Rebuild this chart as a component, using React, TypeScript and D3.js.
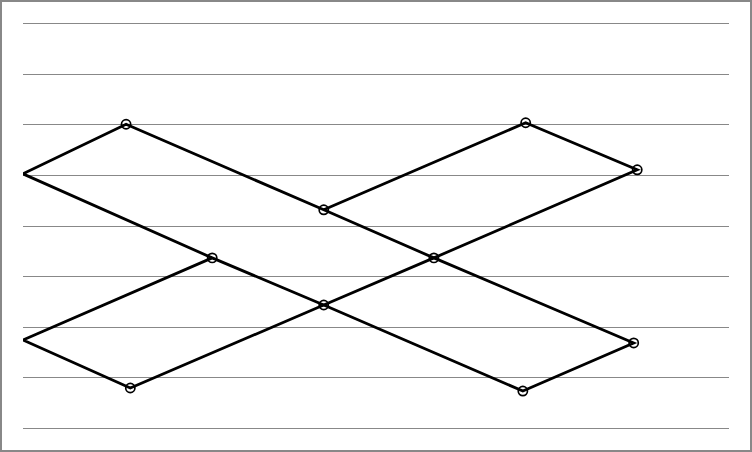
import React from 'react';
import * as d3 from 'd3';

// grid levels (no labels shown in the chart)
const yTicks = [0, 1, 2, 3, 4, 5, 6, 7, 8];

// closed loop series
const loopX = [0, 14.6, 42.6, 58.2, 86.5, 70.8, 42.6, 26.8, 0];
const loopY = [5.02, 6.0, 4.31, 3.36, 1.68, 0.73, 2.43, 3.36, 5.02];

// open path series
const pathX = [26.8, 0, 15.2, 42.6, 58.2, 87.0, 71.2, 42.6];
const pathY = [3.36, 1.74, 0.79, 2.43, 3.36, 5.1, 6.03, 4.31];

const W = 752;
const H = 452;
const margin = { top: 23, right: 23, bottom: 24, left: 23 };

const App = () => {
  const x = d3.scaleLinear().domain([0, 100]).range([margin.left, W - margin.right]);
  const y = d3.scaleLinear().domain([0, 8]).range([H - margin.bottom, margin.top]);

  const series = [
    loopX.map((v, i) => ({ x: v, y: loopY[i] })),
    pathX.map((v, i) => ({ x: v, y: pathY[i] })),
  ];

  const line = d3.line<{ x: number; y: number }>()
    .x(d => x(d.x))
    .y(d => y(d.y));

  // markers: every point inside the plot, once
  const seen = new Set<string>();
  const markers: { x: number; y: number }[] = [];
  series.flat().forEach(d => {
    const k = `${d.x}-${d.y}`;
    if (d.x > 0 && !seen.has(k)) {
      seen.add(k);
      markers.push(d);
    }
  });

  return (
    <svg width={W} height={H} style={{ position: 'absolute', left: 0, top: 0, display: 'block' }}>
      <defs>
        <clipPath id="plot">
          <rect x={x(0)} y={0} width={x(100) - x(0)} height={H} />
        </clipPath>
      </defs>
      <rect x={0} y={0} width={W} height={H} fill="#fff" />
      {/* grid */}
      {yTicks.map(t => (
        <line
          key={t}
          x1={x(0)}
          x2={x(100)}
          y1={Math.round(y(t)) + 0.5}
          y2={Math.round(y(t)) + 0.5}
          stroke="#888"
          strokeWidth={1}
        />
      ))}

      {/* lines */}
      <g clipPath="url(#plot)">
        {series.map((s, i) => (
          <path
            key={i}
            d={line(s) || ''}
            fill="none"
            stroke="#000"
            strokeWidth={2.8}
            strokeLinejoin="miter"
          />
        ))}
      </g>

      {/* points */}
      {markers.map((d, i) => (
        <circle
          key={i}
          cx={x(d.x)}
          cy={y(d.y)}
          r={4.6}
          fill="none"
          stroke="#000"
          strokeWidth={1.7}
        />
      ))}

      {/* outer border */}
      <rect x={1} y={1} width={W - 2} height={H - 2} fill="none" stroke="#888" strokeWidth={2} />
    </svg>
  );
};

export default App;
